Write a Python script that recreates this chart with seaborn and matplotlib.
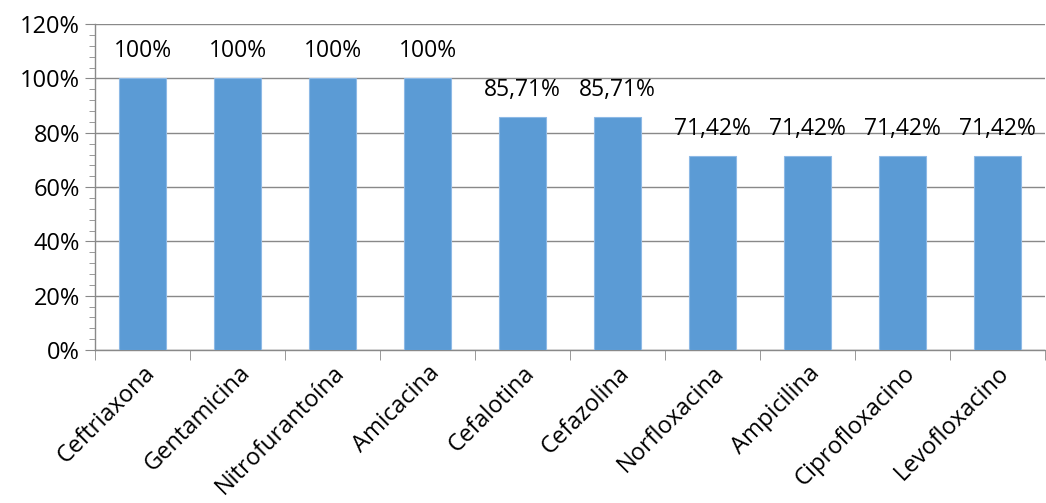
import pandas as pd
import matplotlib.pyplot as plt
import seaborn as sns
from matplotlib.ticker import MultipleLocator, FuncFormatter

antibioticos = ['Ceftriaxona', 'Gentamicina', 'Nitrofurantoína', 'Amicacina', 'Cefalotina',
                'Cefazolina', 'Norfloxacina', 'Ampicilina', 'Ciprofloxacino', 'Levofloxacino']
sensibilidad = [100, 100, 100, 100, 85.71, 85.71, 71.42, 71.42, 71.42, 71.42]
etiquetas = ['100%', '100%', '100%', '100%', '85,71%', '85,71%', '71,42%', '71,42%', '71,42%', '71,42%']

df = pd.DataFrame({'antibiotico': antibioticos, 'valor': sensibilidad})

sns.set_style('white')
plt.rcParams['font.family'] = ['Open Sans', 'DejaVu Sans']

fig = plt.figure(figsize=(10.46, 5.03), dpi=100)
ax = fig.add_axes([0.091, 0.304, 0.908, 0.648])

sns.barplot(data=df, x='antibiotico', y='valor', color='#5B9BD5', saturation=1,
            width=0.5, ax=ax, zorder=3, edgecolor='#8DB9E6', linewidth=0.8)

for i, (v, t) in enumerate(zip(sensibilidad, etiquetas)):
    ax.text(i, v + 10, t, ha='center', va='center', fontsize=16.5, color='black', zorder=4)

ax.set_ylim(0, 120)
ax.set_xlim(-0.5, len(antibioticos) - 0.5)
ax.yaxis.set_major_locator(MultipleLocator(20))
ax.yaxis.set_minor_locator(MultipleLocator(4))
ax.yaxis.set_major_formatter(FuncFormatter(lambda v, p: f'{int(v)}%'))
ax.grid(axis='y', color='#898989', linewidth=1, zorder=0)
ax.set_axisbelow(True)

for s in ['top', 'right']:
    ax.spines[s].set_visible(False)
for s in ['left', 'bottom']:
    ax.spines[s].set_color('#898989')
    ax.spines[s].set_linewidth(1)

ax.tick_params(axis='y', which='major', length=7, color='#898989', labelsize=17,
               labelcolor='black', left=True, pad=4)
ax.tick_params(axis='y', which='minor', length=4, color='#898989', left=True)

# category separators below the x axis
ax.set_xticks([i - 0.5 for i in range(len(antibioticos) + 1)], minor=True)
ax.tick_params(axis='x', which='minor', length=7, color='#898989', bottom=True)
ax.tick_params(axis='x', which='major', length=0, labelsize=17, labelcolor='black', pad=8)
ax.set_xticks(range(len(antibioticos)))
ax.set_xticklabels(antibioticos, rotation=45, ha='right', rotation_mode='anchor')
ax.set_xlabel('')
ax.set_ylabel('')

fig.savefig('out.png', dpi=100)
